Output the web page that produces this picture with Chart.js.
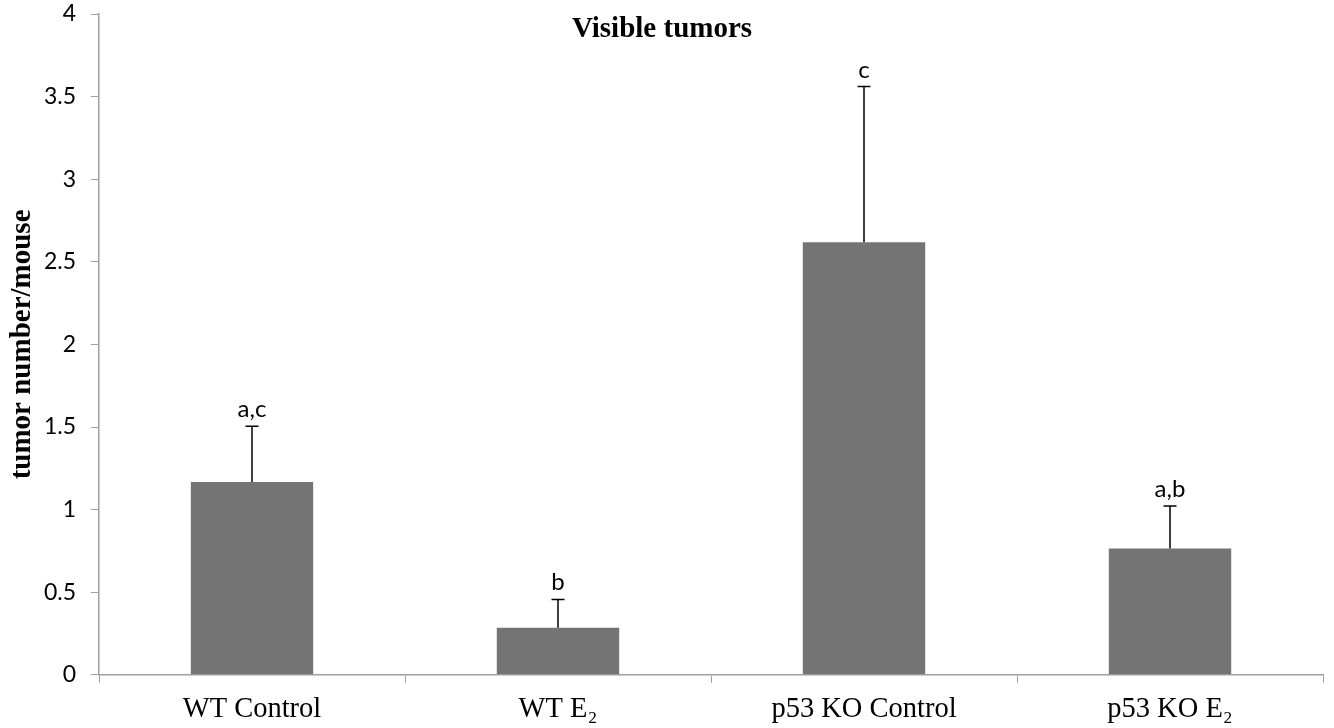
<!DOCTYPE html>
<html>
<head>
<meta charset="utf-8">
<title>Visible tumors</title>
<script src="https://cdn.jsdelivr.net/npm/chart.js@4.4.1/dist/chart.umd.min.js"></script>
<style>
    html, body { margin: 0; padding: 0; background: #fff; }
    #wrap { width: 1334px; height: 728px; }
</style>
</head>
<body>
<div id="wrap"><canvas id="tumorChart" width="1334" height="728"></canvas></div>
<script>
// data
const groups = ['WT Control', 'WT E\u2082', 'p53 KO Control', 'p53 KO E\u2082']
const tumorsPerMouse = [1.167, 0.285, 2.618, 0.764]
const stdError = [0.338, 0.171, 0.943, 0.258]
const sigLetters = ['a,c', 'b', 'c', 'a,b']
const yTicks = [0, 0.5, 1, 1.5, 2, 2.5, 3, 3.5, 4]

const axisGray = '#a0a0a0'

// upper error bars + significance letters
const errorBars = {
    id: 'errorBars',
    afterDatasetsDraw(chart) {
        const ctx = chart.ctx
        const y = chart.scales.y
        const meta = chart.getDatasetMeta(0)
        ctx.save()
        ctx.strokeStyle = '#000'
        ctx.lineWidth = 1.5
        ctx.fillStyle = '#000'
        ctx.font = '24px Lato'
        ctx.textAlign = 'center'
        ctx.textBaseline = 'alphabetic'
        meta.data.forEach((bar, i) => {
            const top = y.getPixelForValue(tumorsPerMouse[i] + stdError[i])
            ctx.beginPath()
            ctx.moveTo(bar.x, bar.y)
            ctx.lineTo(bar.x, top)
            ctx.moveTo(bar.x - 6.5, top)
            ctx.lineTo(bar.x + 6.5, top)
            ctx.stroke()
            ctx.fillText(sigLetters[i], bar.x, top - 9)
        })
        ctx.restore()
    }
}

// chart title sits inside the plot area in the original
const floatTitle = {
    id: 'floatTitle',
    afterDraw(chart) {
        const ctx = chart.ctx
        ctx.save()
        ctx.font = 'bold 29px "Liberation Serif"'
        ctx.fillStyle = '#000'
        ctx.textAlign = 'center'
        ctx.textBaseline = 'alphabetic'
        ctx.fillText('Visible tumors', chart.width / 2 - 5, 37)
        ctx.restore()
    }
}

new Chart(document.getElementById('tumorChart'), {
    type: 'bar',
    data: {
        labels: groups,
        datasets: [{
            data: tumorsPerMouse,
            backgroundColor: '#747474',
            borderWidth: 0,
            barPercentage: 0.4,
            categoryPercentage: 1.0
        }]
    },
    options: {
        responsive: false,
        animation: false,
        layout: { padding: { top: 14, right: 11, bottom: -9, left: 5 } },
        plugins: {
            legend: { display: false },
            tooltip: { enabled: false }
        },
        scales: {
            x: {
                grid: {
                    display: true,
                    drawOnChartArea: false,
                    drawTicks: true,
                    tickLength: 8,
                    color: axisGray,
                    offset: true
                },
                border: { display: true, color: axisGray, width: 1.5 },
                ticks: {
                    color: '#000',
                    padding: 10,
                    font: { family: '"Liberation Serif"', size: 28.5 }
                }
            },
            y: {
                min: 0,
                max: 4,
                afterBuildTicks(scale) {
                    scale.ticks = yTicks.map(v => ({ value: v }))
                },
                afterFit(scale) {
                    scale.width = 94
                    scale.paddingTop = 0
                    scale.paddingBottom = 0
                },
                grid: {
                    display: true,
                    drawOnChartArea: false,
                    drawTicks: true,
                    tickLength: 8,
                    color: axisGray
                },
                border: { display: true, color: axisGray, width: 1.5 },
                ticks: {
                    color: '#000',
                    padding: 15,
                    font: { family: 'Lato', size: 23 },
                    callback: v => String(v)
                },
                title: {
                    display: true,
                    text: 'tumor number/mouse',
                    color: '#000',
                    padding: { top: 0, bottom: 2 },
                    font: { family: '"Liberation Serif"', size: 29, weight: 'bold' }
                }
            }
        }
    },
    plugins: [errorBars, floatTitle]
})
</script>
</body>
</html>
